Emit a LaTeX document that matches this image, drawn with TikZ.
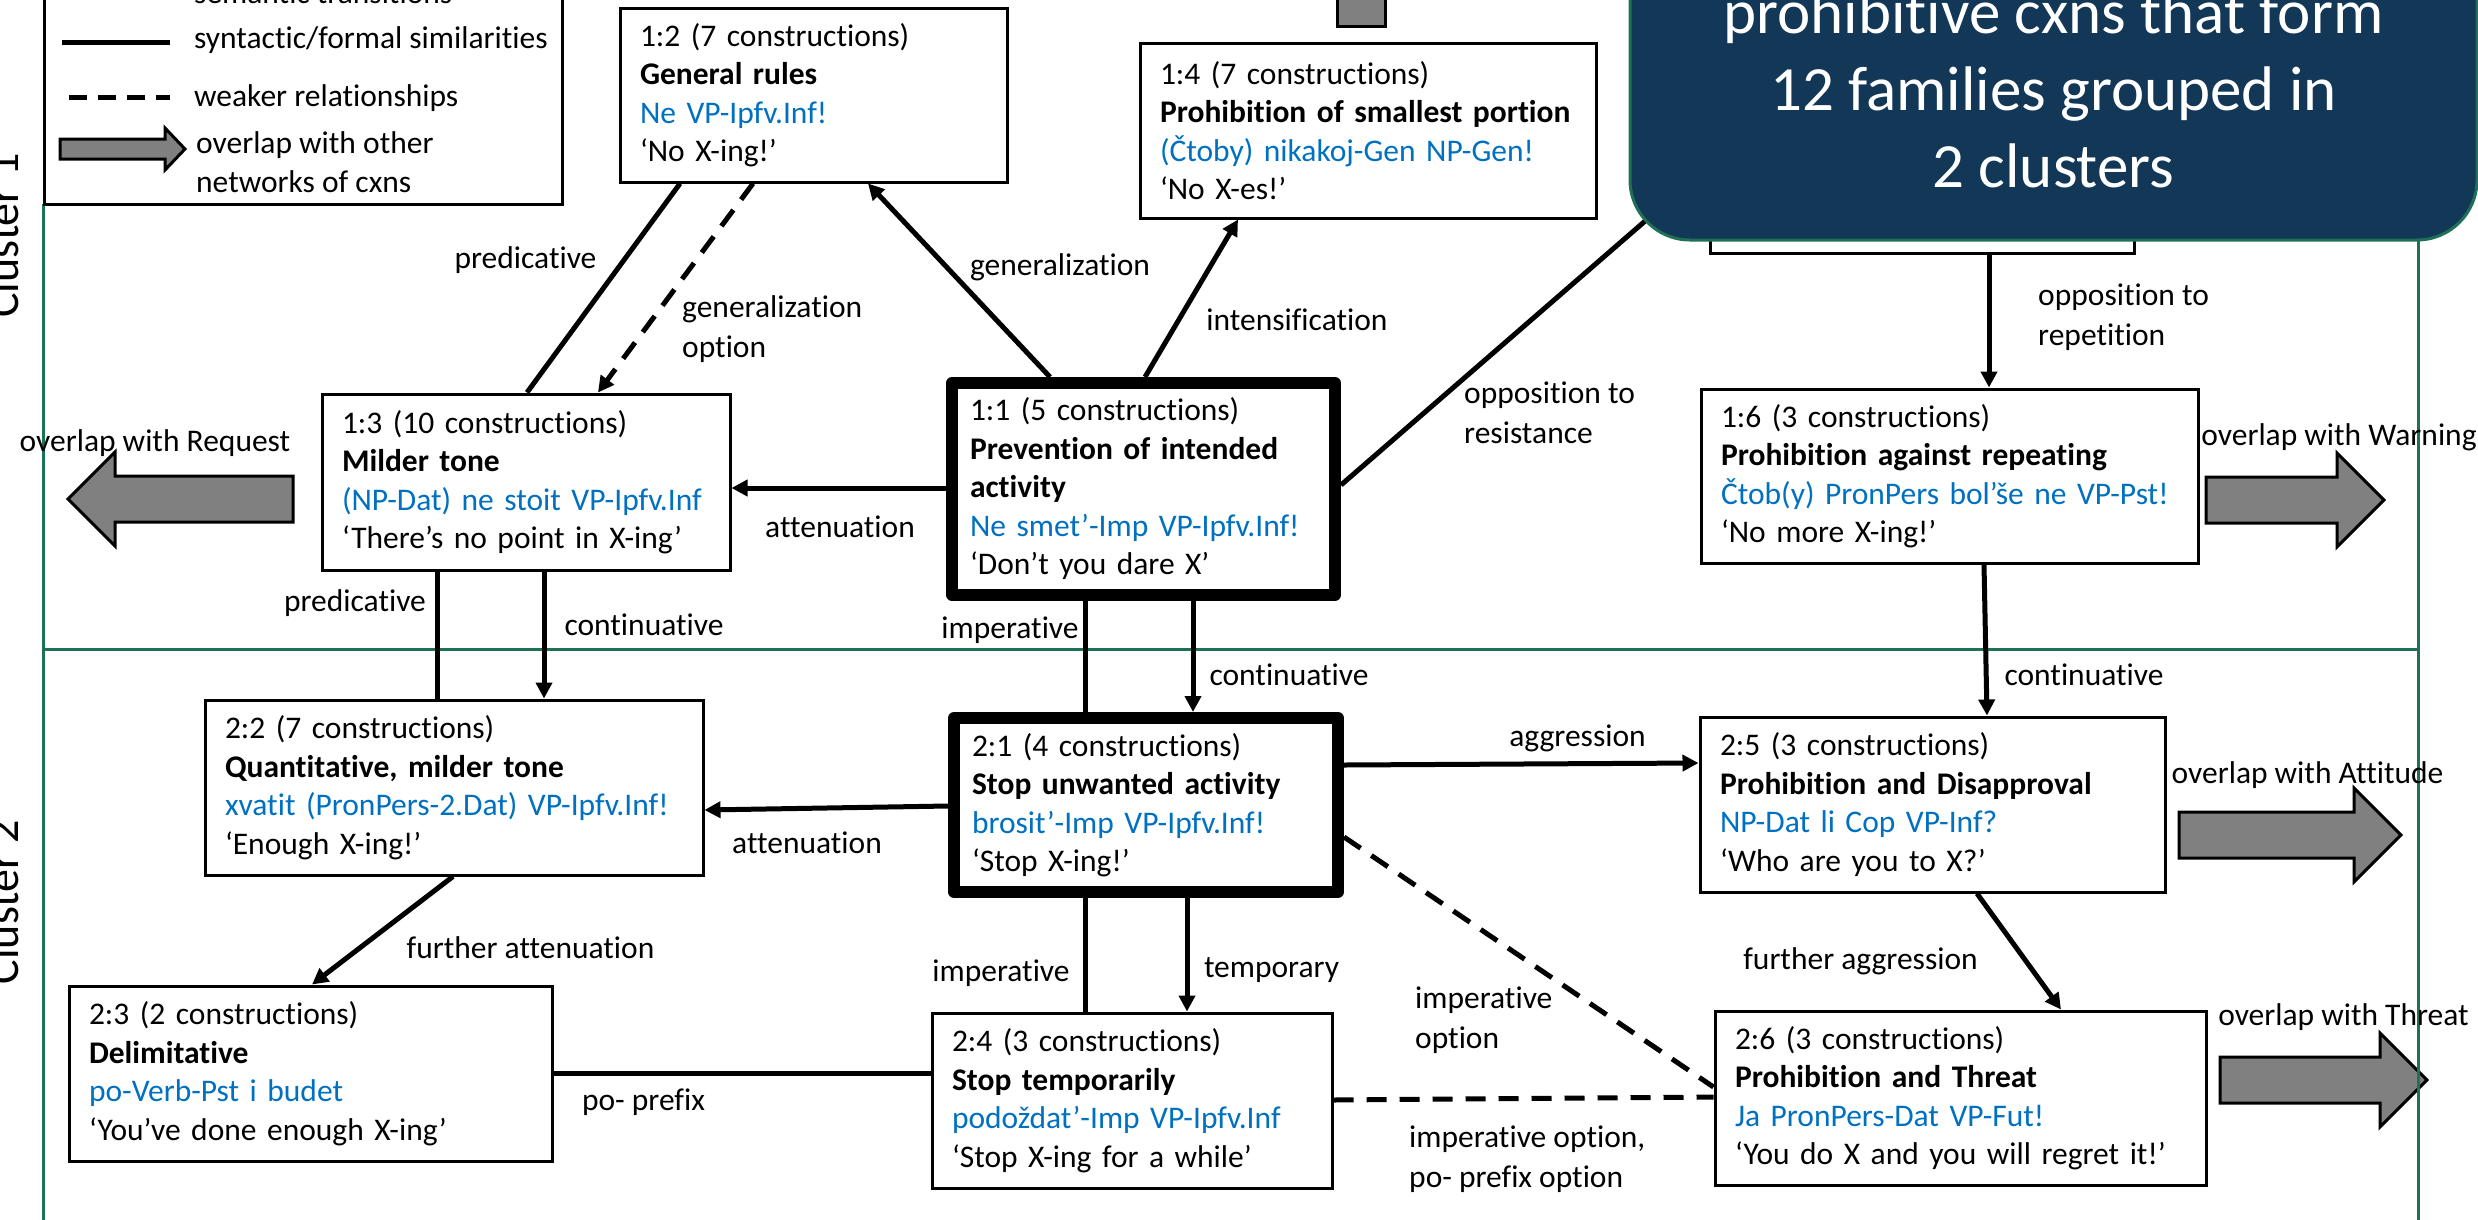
\documentclass[tikz,border=0pt]{standalone}
\usepackage{fontspec}
\setmainfont{Carlito}[Ligatures={NoCommon}]
\usetikzlibrary{arrows.meta}
\definecolor{cxblue}{RGB}{0,112,192}
\definecolor{clusterline}{RGB}{30,113,86}
\definecolor{titlenavy}{RGB}{19,55,87}
\definecolor{overlapgray}{RGB}{128,128,128}
\newcommand{\labelsize}{\fontsize{31.5}{38.5}\selectfont}
\newcommand{\twolinesize}{\fontsize{31.5}{40}\selectfont}
\newcommand{\titlesize}{\fontsize{63}{77}\selectfont}
\newcommand{\clustersize}{\fontsize{46}{50}\selectfont}

\tikzset{
  cxbox/.code 2 args={\pgfmathsetmacro\cxtextw{#1-40}%
    \tikzset{draw, line width=3pt, fill=white, inner xsep=20pt, inner ysep=0pt,
      minimum width=#1pt, minimum height=#2pt, text width=\cxtextw pt, align=left}},
  keybox/.code 2 args={\pgfmathsetmacro\cxtextw{#1-36}%
    \tikzset{draw, line width=12pt, line join=round, fill=white, inner xsep=18pt, inner ysep=0pt,
      minimum width=#1pt, minimum height=#2pt, text width=\cxtextw pt, align=left}},
  conn/.style={line width=5pt},
  arr/.style={conn, -{Triangle[length=16pt,width=16pt]}},
  weak/.style={conn, dash pattern=on 20pt off 13pt},
  twoline/.style={anchor=west, align=left, font=\twolinesize},
  ovshape/.style={fill=overlapgray, draw=black, line width=3pt},
  frameline/.style={draw=clusterline, line width=3pt},
  pics/ovarrow/.style={code={
    \draw[ovshape] (0,0) -- (-47,-47) -- (-47,-23) -- (-#1,-23) -- (-#1,23)
      -- (-47,23) -- (-47,47) -- cycle;}}
}

\begin{document}
\begin{tikzpicture}[x=1pt, y=-1pt, every node/.style={inner sep=0pt, font=\labelsize}]
\path[use as bounding box] (0,0) rectangle (2478,1219);
\clip (0,0) rectangle (2478,1219);
\fill[white] (0,0) rectangle (2478,1219);

% overlap arrows towards other networks
\pic[rotate=180] at (68,499) {ovarrow=225};
\pic at (2384,500) {ovarrow=178};
\pic at (2401,835) {ovarrow=222};
\pic at (2427,1080) {ovarrow=207};
\draw[ovshape] (1337,-60) rectangle (1385,26);

% cluster frames
\draw[frameline] (43,204) -- (43,1240);
\draw[frameline] (2418,240) -- (2418,1240);
\draw[frameline] (43,649) -- (2418,649);

\node[rotate=90, anchor=base, font=\clustersize] (cl1) at (18,235.5) {Cluster 1};
\node[rotate=90, anchor=base, font=\clustersize] (cl2) at (18,902) {Cluster 2};

% construction families, cluster 1
\node[keybox={383}{212}] (n11) at (1143.5,489)
  {1:1 (5 constructions)\\\textbf{Prevention of intended}\\\textbf{activity}\\\textcolor{cxblue}{Ne smet’-Imp VP-Ipfv.Inf!}\\‘Don’t you dare X’};
\node[cxbox={387}{174}] (n12) at (813.5,95)
  {1:2 (7 constructions)\\\textbf{General rules}\\\textcolor{cxblue}{Ne VP-Ipfv.Inf!}\\‘No X-ing!’};
\node[cxbox={408}{176}] (n13) at (526,482)
  {1:3 (10 constructions)\\\textbf{Milder tone}\\\textcolor{cxblue}{(NP-Dat) ne stoit VP-Ipfv.Inf}\\‘There’s no point in X-ing’};
\node[cxbox={456}{175}] (n14) at (1368,130.5)
  {1:4 (7 constructions)\\\textbf{Prohibition of smallest portion}\\\textcolor{cxblue}{(Čtoby) nikakoj-Gen NP-Gen!}\\‘No X-es!’};
\node[cxbox={424}{175}] (n15) at (1922,165.5) {};
\node[cxbox={497}{174}] (n16) at (1949.5,476)
  {1:6 (3 constructions)\\\textbf{Prohibition against repeating}\\\textcolor{cxblue}{Čtob(y) PronPers bol’še ne VP-Pst!}\\‘No more X-ing!’};

% construction families, cluster 2
\node[keybox={384}{174}] (n21) at (1146,805)
  {2:1 (4 constructions)\\\textbf{Stop unwanted activity}\\\textcolor{cxblue}{brosit’-Imp VP-Ipfv.Inf!}\\‘Stop X-ing!’};
\node[cxbox={498}{175}] (n22) at (454,787.5)
  {2:2 (7 constructions)\\\textbf{Quantitative, milder tone}\\\textcolor{cxblue}{xvatit (PronPers-2.Dat) VP-Ipfv.Inf!}\\‘Enough X-ing!’};
\node[cxbox={483}{175}] (n23) at (310.5,1073.5)
  {2:3 (2 constructions)\\\textbf{Delimitative}\\\textcolor{cxblue}{po-Verb-Pst i budet}\\‘You’ve done enough X-ing’};
\node[cxbox={400}{175}] (n24) at (1132,1100.5)
  {2:4 (3 constructions)\\\textbf{Stop temporarily}\\\textcolor{cxblue}{podoždat’-Imp VP-Ipfv.Inf}\\‘Stop X-ing for a while’};
\node[cxbox={465}{175}] (n25) at (1932.5,804.5)
  {2:5 (3 constructions)\\\textbf{Prohibition and Disapproval}\\\textcolor{cxblue}{NP-Dat li Cop VP-Inf?}\\‘Who are you to X?’};
\node[cxbox={491}{174}] (n26) at (1960.5,1098)
  {2:6 (3 constructions)\\\textbf{Prohibition and Threat}\\\textcolor{cxblue}{Ja PronPers-Dat VP-Fut!}\\‘You do X and you will regret it!’};

% relations
\draw[arr] (n11.north -| 1050,0) -- (n12.south -| 868,0);
\draw[arr] (n11.north -| 1145,0) -- (n14.south -| 1238,0);
\draw[conn] (n12.south -| 680,0) -- (n13.north -| 527,0);
\draw[weak, -{Triangle[length=16pt,width=16pt]}] (n12.south -| 753,0) -- (n13.north -| 598,0);
\draw[arr] (n11.west |- 0,488) -- (n13.east |- 0,488);
\draw[conn] (n11.east |- 0,485) -- (n15.west |- 0,166);
\draw[arr] (n15.south -| 1989,0) -- (n16.north -| 1989,0);
\draw[conn] (n13.south -| 437,0) -- (n22.north -| 437,0);
\draw[arr] (n13.south -| 544,0) -- (n22.north -| 544,0);
\draw[conn] (n11.south -| 1085,0) -- (n21.north -| 1085,0);
\draw[arr] (n11.south -| 1193,0) -- (n21.north -| 1193,0);
\draw[arr] (n16.south -| 1984,0) -- (n25.north -| 1987,0);
\draw[arr] (n21.west |- 0,806) -- (n22.east |- 0,810);
\draw[arr] (n21.east |- 0,765) -- (n25.west |- 0,763);
\draw[arr] (n22.south -| 453,0) -- (n23.north -| 312,0);
\draw[conn] (n23.east |- 0,1073) -- (n24.west |- 0,1073);
\draw[conn] (n21.south -| 1085,0) -- (n24.north -| 1085,0);
\draw[arr] (n21.south -| 1187,0) -- (n24.north -| 1187,0);
\draw[weak] (n21.east |- 0,837) -- (n26.west |- 0,1087);
\draw[weak] (n24.east |- 0,1100) -- (n26.west |- 0,1097);
\draw[arr] (n25.south -| 1977,0) -- (n26.north -| 2061,0);

% relation labels
\node (lgen) at (1060,267) {generalization};
\node (lint) at (1297,320) {intensification};
\node (lpred1) at (525.5,260) {predicative};
\node[twoline] (lgenopt) at (682,329) {generalization\\option};
\node (latt1) at (840,527) {attenuation};
\node[twoline] (lres) at (1464,413) {opposition to\\resistance};
\node[twoline] (lrep) at (2038,317) {opposition to\\repetition};
\node (lpred2) at (355,603) {predicative};
\node (lcont1) at (644,625) {continuative};
\node (limp1) at (1010,630) {imperative};
\node (lcont2) at (1289,675) {continuative};
\node (lcont3) at (2084,675) {continuative};
\node (latt2) at (807,843) {attenuation};
\node (lagg) at (1577.5,738) {aggression};
\node (lfatt) at (530.5,948) {further attenuation};
\node (lpo) at (643.5,1102) {po- prefix};
\node (limp2) at (1001,973) {imperative};
\node (ltemp) at (1271.5,970) {temporary};
\node[twoline] (limpopt) at (1415,1020) {imperative\\option};
\node[twoline] (limppo) at (1409,1159) {imperative option,\\po- prefix option};
\node (lfagg) at (1860.5,961) {further aggression};
\node (ovreq) at (155,443) {overlap with Request};
\node (ovwarn) at (2339,437) {overlap with Warning};
\node (ovatt) at (2307.5,775) {overlap with Attitude};
\node (ovthr) at (2343.5,1017) {overlap with Threat};

% legend
\draw[line width=3pt, fill=white] (44,-60) rectangle (562,204);
\node[anchor=base west] (k1) at (194,3) {semantic transitions};
\draw[conn] (62,42) -- (170,42);
\node[anchor=base west] (k2) at (194,48) {syntactic/formal similarities};
\draw[conn, dash pattern=on 18pt off 11pt] (69,97) -- (170,97);
\node[anchor=base west] (k3) at (194,106) {weaker relationships};
\draw[ovshape] (60,139) -- (165,139) -- (165,128) -- (185,149) -- (165,170) -- (165,159) -- (60,159) -- cycle;
\node[anchor=base west] (k4) at (196,153) {overlap with other};
\node[anchor=base west] (k5) at (196,192) {networks of cxns};

% title panel
\node[draw=clusterline, line width=3pt, fill=titlenavy, rounded corners=60pt,
  minimum width=847pt, minimum height=480pt] (title) at (2053.5,0) {};
\node[anchor=base, text=white, font=\titlesize] (t1) at (2053.5,33) {prohibitive cxns that form};
\node[anchor=base, text=white, font=\titlesize] (t2) at (2053.5,110) {12 families grouped in};
\node[anchor=base, text=white, font=\titlesize] (t3) at (2053.5,187) {2 clusters};
\end{tikzpicture}
\end{document}
